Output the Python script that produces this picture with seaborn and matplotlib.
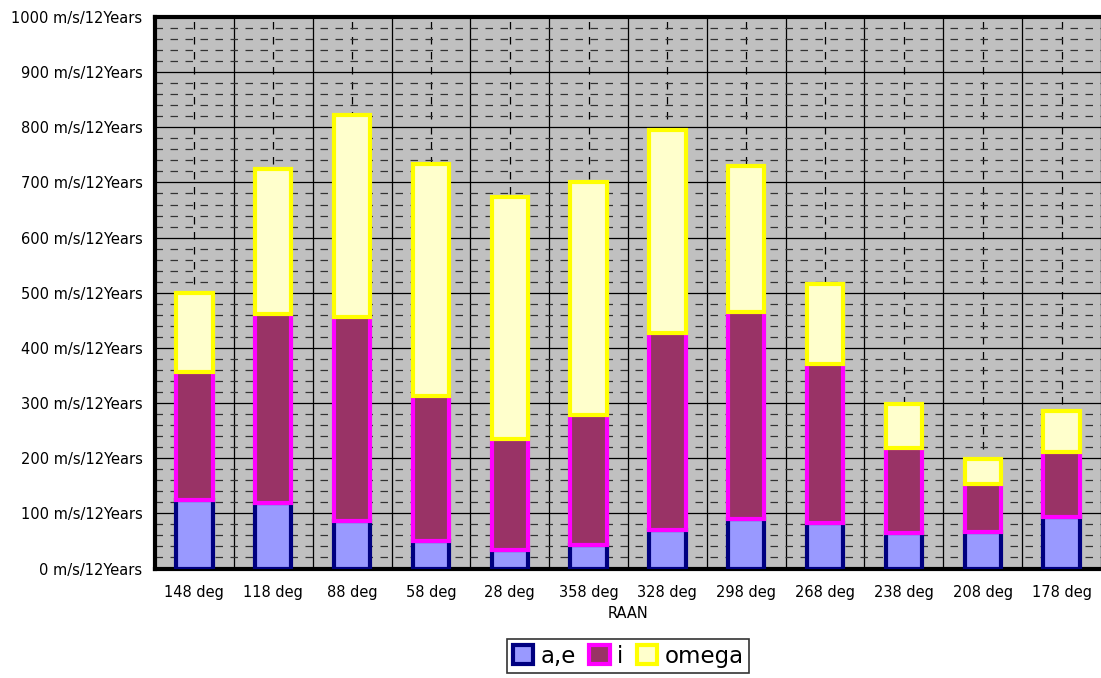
import matplotlib
matplotlib.use("Agg")
import matplotlib.pyplot as plt
from matplotlib.patches import Patch
from matplotlib.ticker import MultipleLocator, FuncFormatter, FixedLocator
import numpy as np
import pandas as pd
import seaborn as sns

# RAAN cases and delta-v budget components (m/s over 12 years)
raan = ["148 deg", "118 deg", "88 deg", "58 deg", "28 deg", "358 deg",
        "328 deg", "298 deg", "268 deg", "238 deg", "208 deg", "178 deg"]
dv_ae = [124, 118, 87, 49, 34, 42, 69, 89, 82, 64, 67, 93]
dv_i = [233, 344, 369, 263, 200, 237, 358, 376, 289, 154, 86, 118]
dv_omega = [142, 263, 366, 422, 439, 421, 368, 265, 145, 80, 45, 75]

series = ["a,e", "i", "omega"]
face = {"a,e": "#9999FF", "i": "#993366", "omega": "#FFFFCC"}
edge = {"a,e": "#000080", "i": "#FF00FF", "omega": "#FFFF00"}

df = pd.DataFrame({"RAAN": raan, "a,e": dv_ae, "i": dv_i, "omega": dv_omega})

sns.set_style("white")
plt.rcParams["font.family"] = ["DejaVu Sans"]
plt.rcParams["text.color"] = "black"
plt.rcParams["axes.labelcolor"] = "black"

fig = plt.figure(figsize=(11.01, 6.78), dpi=100)
ax = fig.add_axes([155 / 1101, 1 - 568.5 / 678, 1 - 155 / 1101, (568.5 - 17) / 678])
ax.set_facecolor("#C0C0C0")

bottom = np.zeros(len(raan))
for s in series:
    sns.barplot(data=df, x="RAAN", y=s, order=raan, color=face[s],
                edgecolor=edge[s], linewidth=3.0, width=0.46, saturation=1,
                bottom=bottom, ax=ax, zorder=3)
    bottom = bottom + df[s].to_numpy()

ax.set_xlim(-0.5, len(raan) - 0.5)
ax.set_ylim(0, 1000)

# gridlines: solid majors every 100, dashed minors every 20;
# solid verticals between categories, dashed verticals at category centres
ax.yaxis.set_major_locator(MultipleLocator(100))
ax.yaxis.set_minor_locator(MultipleLocator(20))
ax.xaxis.set_minor_locator(FixedLocator(np.arange(-0.5, len(raan), 1.0)))
ax.set_axisbelow(True)
ax.grid(False)
ax.yaxis.grid(True, which="major", color="black", linewidth=0.9, linestyle="-")
ax.yaxis.grid(True, which="minor", color="#333333", linewidth=0.9, linestyle=(0, (6, 6)))
ax.xaxis.grid(True, which="minor", color="black", linewidth=0.9, linestyle="-")
ax.xaxis.grid(True, which="major", color="black", linewidth=0.9, linestyle=(0, (6, 6)))

ax.yaxis.set_major_formatter(FuncFormatter(lambda v, p: f"{int(v)} m/s/12Years"))
ax.tick_params(axis="y", which="both", length=0, pad=9, labelsize=10.5, colors="black")
ax.tick_params(axis="x", which="both", length=0, pad=12, labelsize=10.5, colors="black")

ax.set_ylabel("")
ax.set_xlabel("RAAN", fontsize=10.5, labelpad=4, color="black")

for side in ["left", "bottom", "top"]:
    ax.spines[side].set_visible(True)
    ax.spines[side].set_color("black")
    ax.spines[side].set_linewidth(3.0)
ax.spines["right"].set_visible(False)

handles = [Patch(facecolor=face[s], edgecolor=edge[s], linewidth=3.0, label=s) for s in series]
leg = fig.legend(handles=handles, loc="upper center", bbox_to_anchor=(628 / 1101, 1 - 639 / 678),
                 ncol=3, fontsize=16.5, frameon=True, fancybox=False, handlelength=0.9,
                 handleheight=0.9, handletextpad=0.3, columnspacing=0.6, borderpad=0.25,
                 borderaxespad=0, labelcolor="black")
leg.get_frame().set_edgecolor("black")
leg.get_frame().set_linewidth(1.2)

fig.savefig("out.png", dpi=100)
